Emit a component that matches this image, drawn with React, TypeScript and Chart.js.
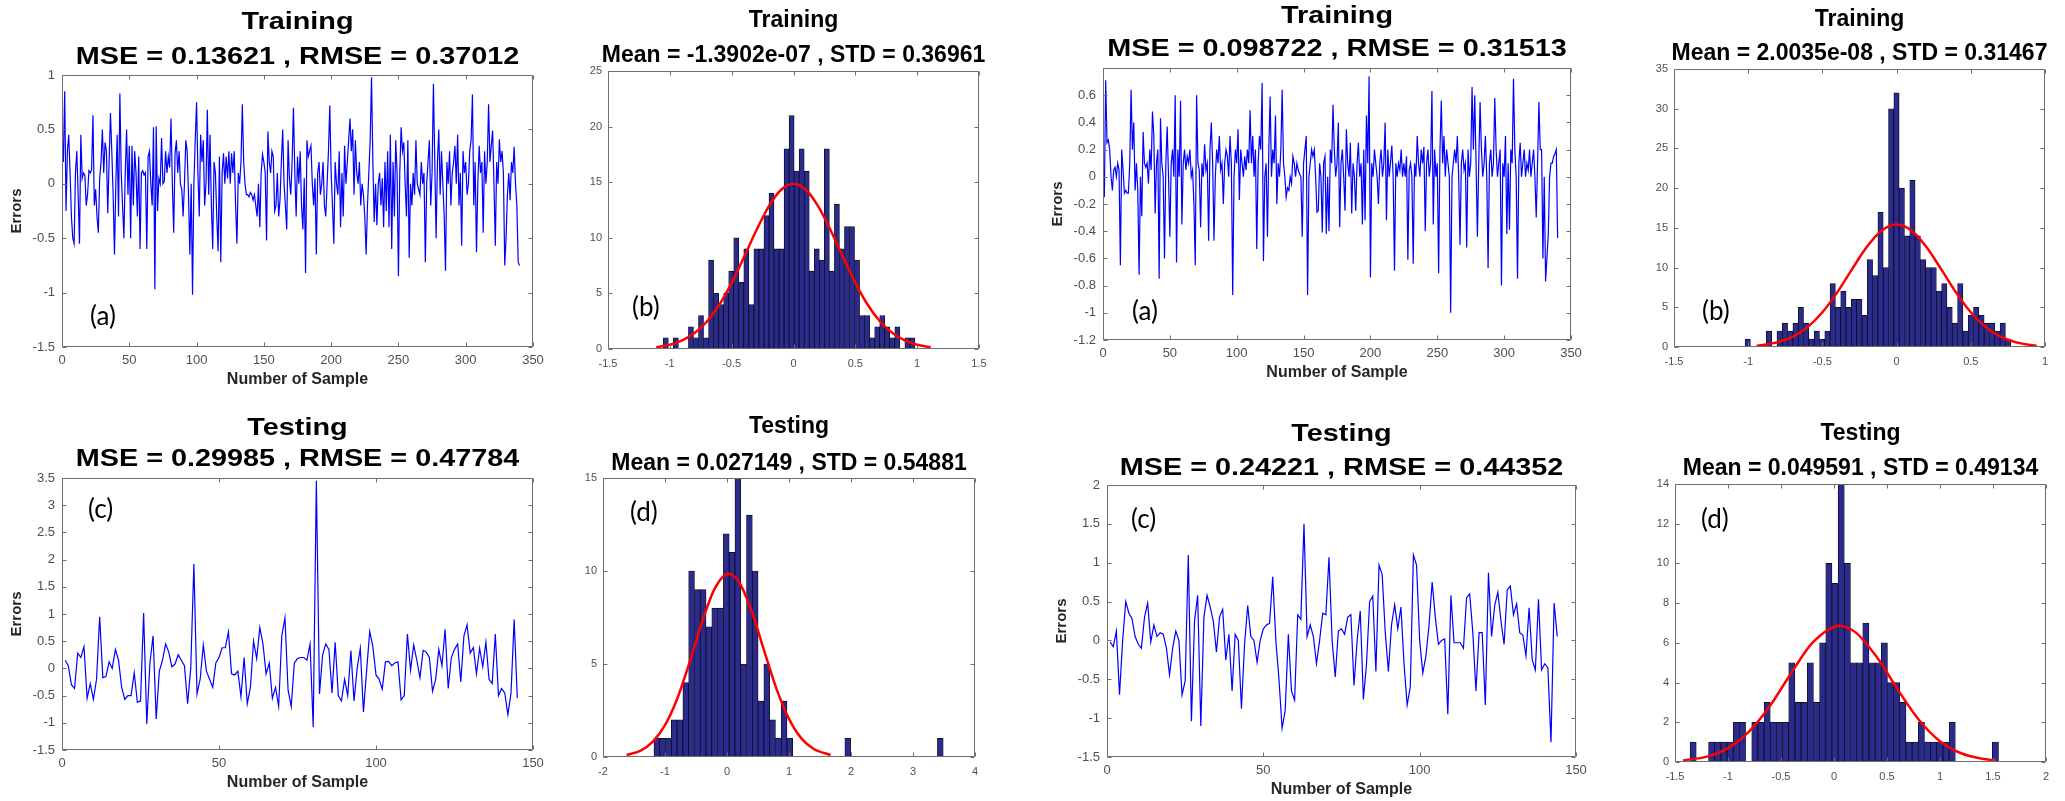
import React, { useEffect, useRef } from "react";
import { Chart, registerables } from "chart.js";

Chart.register(...registerables);

// ================= DATA =================
// Training errors, left figure (340 samples)
const trainErrorsA: number[] = [
  0.2, 0.85, -0.25, 0.3, 0.45, 0.1, -0.3, -0.5, -0.55, 0.1,
  0.3, -0.1, -0.55, 0.45, 0.05, 0.1, 0.08, -0.2, -0.1, 0.12,
  0.1, 0.13, 0.63, -0.2, -0.05, -0.3, -0.45, 0.05, 0.2, 0.5,
  0.1, 0.38, 0.3, -0.27, 0.2, 0.65, 0.3, -0.1, -0.65, 0.0,
  0.45, -0.3, 0.83, 0.1, -0.2, -0.5, 0.1, 0.5, -0.1, 0.35,
  -0.5, 0.35, -0.2, 0.3, 0.1, -0.3, 0.25, -0.6, 0.1, 0.12,
  0.08, 0.1, -0.6, 0.25, 0.3, 0.0, -0.2, 0.52, -0.97, 0.53,
  -0.25, 0.05, 0.0, 0.42, 0.0, 0.02, 0.3, 0.1, 0.25, 0.15,
  0.6, 0.0, -0.45, 0.28, 0.4, 0.1, 0.3, 0.0, -0.05, -0.3,
  0.0, 0.4, 0.3, -0.1, -0.65, 0.0, -1.02, 0.0, 0.4, 0.75,
  0.1, -0.3, 0.45, 0.2, 0.4, -0.2, 0.0, 0.68, -0.1, 0.45,
  -0.2, -0.6, 0.2, 0.1, -0.3, -0.62, 0.25, -0.72, 0.1, 0.28,
  0.0, 0.25, 0.05, 0.3, 0.0, 0.28, 0.1, 0.3, -0.2, -0.55,
  0.1, 0.0, 0.2, 0.73, 0.2, 0.0, -0.1, -0.1, -0.12, -0.08,
  -0.1, -0.15, -0.1, -0.2, -0.3, 0.0, -0.4, 0.1, 0.27, 0.2,
  0.1, -0.52, 0.48, 0.2, 0.1, 0.3, 0.25, -0.25, -0.2, 0.1,
  -0.3, -0.15, 0.2, 0.5, 0.0, -0.2, -0.42, 0.4, 0.05, -0.1,
  0.2, 0.7, 0.1, -0.3, 0.25, 0.0, 0.3, -0.2, -0.42, 0.05,
  -0.82, 0.4, 0.25, 0.3, 0.35, 0.0, -0.2, 0.05, -0.65, 0.1,
  0.2, -0.1, 0.0, 0.2, -0.2, -0.3, 0.0, 0.3, 0.72, 0.1,
  -0.2, -0.55, 0.2, 0.0, -0.1, 0.3, -0.4, 0.1, -0.3, 0.35,
  0.0, 0.2, 0.4, 0.6, 0.3, 0.5, -0.1, 0.4, 0.1, 0.0,
  0.2, -0.2, 0.0, -0.1, -0.3, -0.65, -0.2, 0.1, 0.4, 0.98,
  0.2, -0.35, 0.0, -0.38, 0.0, 0.1, -0.2, 0.05, -0.4, 0.2,
  -0.25, 0.3, -0.4, 0.45, -0.6, 0.2, -0.3, 0.4, 0.1, -0.85,
  0.1, 0.52, 0.3, 0.38, 0.0, -0.3, 0.4, -0.68, 0.0, -0.2,
  0.1, -0.1, 0.4, 0.0, -0.05, -0.1, 0.2, 0.0, 0.1, -0.72,
  0.0, 0.2, 0.4, -0.2, 0.1, 0.92, 0.2, -0.5, 0.2, 0.5,
  -0.1, 0.3, 0.0, -0.3, -0.8, 0.2, 0.0, 0.3, -0.2, 0.1,
  0.2, 0.35, 0.0, 0.45, -0.2, 0.1, -0.57, 0.3, 0.1, 0.2,
  -0.1, 0.0, 0.3, 0.4, 0.82, -0.2, 0.2, -0.63, 0.0, 0.35,
  0.1, 0.2, -0.45, 0.3, 0.0, 0.2, 0.73, 0.2, 0.35, 0.49,
  0.0, -0.57, 0.2, 0.0, 0.41, 0.2, 0.3, 0.1, -0.75, -0.49,
  -0.1, 0.1, -0.15, 0.2, 0.1, 0.34, 0.0, -0.2, -0.72, -0.75,
];

// Training errors, right figure (340 samples)
const trainErrorsB: number[] = [
  -0.15, 0.71, 0.25, 0.27, 0.2, 0.0, -0.1, 0.05, 0.07, 0.0,
  0.1, 0.05, -0.65, 0.2, 0.05, -0.12, -0.1, -0.12, -0.12, 0.1,
  0.64, 0.2, 0.4, -0.1, 0.1, -0.1, -0.72, 0.0, -0.29, 0.33,
  0.1, 0.07, 0.1, -0.05, 0.2, 0.05, 0.48, 0.3, -0.27, 0.1,
  0.2, -0.75, 0.43, 0.1, 0.0, -0.6, 0.1, 0.37, 0.0, -0.44,
  0.1, 0.2, 0.0, 0.6, -0.63, 0.2, 0.0, 0.56, -0.35, 0.1,
  0.2, 0.05, 0.15, 0.1, 0.2, 0.0, 0.05, -0.2, -0.65, 0.6,
  0.1, 0.05, -0.37, 0.1, 0.0, 0.24, 0.05, 0.1, -0.47, 0.2,
  0.4, 0.1, -0.47, 0.0, 0.2, 0.1, 0.3, 0.05, 0.1, -0.2,
  0.1, 0.2, 0.15, 0.0, 0.3, 0.1, -0.87, 0.0, 0.2, 0.1,
  0.35, -0.17, 0.2, 0.1, 0.0, 0.15, 0.05, 0.2, 0.1, 0.49,
  0.1, 0.3, 0.0, 0.2, -0.53, 0.1, 0.3, 0.2, 0.69, -0.62,
  0.0, 0.1, -0.44, 0.2, 0.59, 0.0, 0.2, 0.1, 0.45, -0.2,
  0.1, 0.0, 0.2, 0.64, 0.1, 0.0, -0.15, -0.08, -0.1, 0.0,
  -0.05, 0.15, 0.1, 0.0, 0.1, 0.05, 0.02, 0.0, -0.44, 0.1,
  0.2, 0.3, -0.87, 0.0, 0.1, 0.2, 0.15, 0.2, 0.0, -0.26,
  -0.25, 0.1, 0.0, -0.41, 0.1, 0.15, -0.42, 0.0, -0.4, 0.2,
  0.1, 0.53, 0.2, 0.0, 0.1, 0.4, -0.37, 0.1, 0.2, 0.0,
  -0.25, 0.35, 0.1, 0.0, 0.25, -0.27, 0.1, 0.0, -0.25, 0.1,
  0.25, 0.0, 0.1, -0.35, 0.2, -0.32, 0.45, 0.1, 0.74, -0.74,
  0.1, 0.0, 0.2, 0.1, 0.0, -0.2, 0.1, 0.2, 0.0, 0.1,
  0.4, -0.32, 0.2, 0.0, 0.1, 0.23, 0.0, -0.69, 0.1, 0.0,
  0.1, 0.05, 0.2, 0.0, 0.1, 0.0, 0.15, -0.61, 0.05, 0.1,
  0.0, -0.64, 0.1, 0.0, 0.3, 0.1, 0.0, 0.2, 0.1, 0.22,
  -0.4, 0.1, 0.2, 0.0, 0.1, 0.63, -0.35, 0.2, 0.0, 0.1,
  -0.71, 0.2, 0.56, 0.1, 0.3, 0.0, 0.2, 0.1, 0.0, -1.0,
  0.0, 0.1, 0.2, 0.1, 0.3, 0.0, -0.5, 0.1, 0.2, 0.05,
  0.1, -0.52, 0.2, 0.0, 0.1, 0.66, 0.2, 0.6, 0.1, -0.44,
  0.1, 0.55, 0.2, 0.0, 0.1, 0.3, 0.0, -0.67, 0.1, 0.2,
  0.0, 0.1, 0.58, 0.2, 0.0, 0.1, 0.2, -0.8, 0.1, 0.0,
  0.3, -0.42, 0.1, -0.39, 0.2, 0.1, 0.72, 0.2, 0.0, -0.75,
  0.1, 0.25, 0.0, 0.1, 0.2, 0.0, 0.1, 0.05, 0.2, 0.0,
  0.1, 0.2, 0.0, -0.3, 0.1, 0.55, 0.2, 0.2, -0.6, 0.0,
  -0.77, -0.6, -0.42, 0.0, 0.1, 0.1, 0.15, 0.17, 0.2, -0.45,
];

// Testing errors, left figure
const testErrorsA: number[] = [
  0.15, 0.05, -0.3, -0.37, 0.28, 0.2, 0.4, -0.55, -0.28, -0.57,
  -0.2, 0.95, -0.17, -0.15, 0.12, 0.0, 0.35, 0.15, -0.35, -0.57,
  -0.5, -0.5, -0.08, -0.62, -0.6, 1.02, -1.02, 0.1, 0.6, -0.93,
  -0.05, 0.15, 0.45, 0.3, 0.03, 0.08, 0.25, 0.15, 0.05, -0.65,
  0.0, 1.92, -0.47, -0.2, 0.43, -0.05, -0.2, -0.35, 0.1, 0.2,
  0.38, 0.38, 0.67, -0.1, -0.12, -0.05, -0.52, 0.2, -0.65, -0.35,
  0.5, 0.18, 0.75, 0.45, -0.1, 0.1, -0.55, -0.35, -0.7, 0.6,
  0.93, -0.4, -0.7, 0.1, 0.18, 0.2, 0.2, 0.15, 0.45, -1.08,
  3.45, -0.47, 0.25, 0.45, 0.35, -0.45, 0.48, -0.5, -0.6, -0.2,
  -0.5, 0.33, -0.6, 0.0, 0.37, -0.8, -0.05, 0.68, 0.4, -0.12,
  -0.2, -0.38, 0.12, 0.13, 0.05, 0.1, 0.12, -0.58, -0.5, 0.63,
  -0.03, 0.43, 0.15, -0.17, 0.33, 0.3, 0.2, -0.42, -0.2, 0.35,
  0.05, 0.72, -0.37, 0.2, 0.35, 0.45, -0.25, 0.6, 0.8, 0.28,
  0.38, -0.1, 0.37, 0.03, 0.48, -0.2, -0.28, 0.63, -0.5, -0.37,
  -0.45, -0.85, -0.45, 0.9, -0.55,
];

// Testing errors, right figure
const testErrorsB: number[] = [
  -0.02, -0.08, 0.12, -0.7, 0.0, 0.5, 0.35, 0.28, 0.05, -0.05,
  -0.1, 0.3, 0.48, -0.02, 0.2, 0.05, 0.1, 0.08, -0.1, -0.44,
  -0.1, 0.12, 0.0, -0.7, -0.52, 1.1, -1.04, 0.25, 0.58, -1.1,
  0.3, 0.58, 0.43, 0.25, -0.15, 0.3, 0.4, -0.25, 0.08, -0.65,
  0.08, 0.0, -0.88, -0.05, 0.45, 0.05, 0.0, -0.28, 0.0, 0.15,
  0.2, 0.22, 0.82, 0.0, -0.5, -1.13, -0.9, 0.08, -0.65, -0.77,
  0.33, 0.27, 1.5, 0.05, 0.2, 0.05, -0.3, 0.0, 0.35, 0.33,
  1.07, 0.0, -0.47, 0.12, 0.15, 0.08, 0.3, 0.33, -0.58, 0.0,
  0.38, -0.76, -0.3, 0.5, 0.57, -0.4, 0.97, 0.85, 0.1, -0.4,
  0.2, 0.46, 0.15, 0.43, -0.3, -0.83, -0.6, 1.1, 0.97, 0.0,
  -0.42, -0.2, 0.2, 0.75, 0.3, -0.05, 0.0, 0.02, -0.95, 0.58,
  -0.03, -0.03, -0.03, -0.1, 0.55, 0.6, 0.1, -0.65, 0.1, 0.1,
  -0.83, 0.87, 0.05, 0.45, 0.62, 0.25, -0.05, 0.65, 0.7, 0.33,
  0.47, 0.1, 0.07, -0.2, 0.42, -0.25, -0.38, 0.53, -0.38, -0.3,
  -0.35, -1.31, 0.48, 0.05,
];

// Histogram counts (50 bins each) with bin start / width
const histTrainA: number[] = [1, 0, 1, 0, 0, 2, 1, 3, 1, 8, 5, 4, 5, 7, 10, 6, 9, 4, 9, 9, 12, 14, 9, 9, 18, 21, 16, 18, 16, 7, 9, 8, 18, 7, 13, 9, 11, 11, 8, 3, 3, 1, 2, 3, 2, 1, 2, 0, 1, 1];
const histTrainAStart = -1.053;
const histTrainAWidth = 0.0407;

const histTrainB: number[] = [1, 0, 0, 0, 2, 0, 2, 3, 2, 3, 5, 3, 1, 2, 1, 2, 8, 5, 7, 5, 6, 6, 4, 11, 9, 17, 10, 30, 32, 20, 14, 21, 14, 11, 10, 10, 7, 8, 5, 3, 8, 2, 4, 5, 4, 3, 3, 2, 3, 1];
const histTrainBStart = -1.021;
const histTrainBWidth = 0.0358;

const histTestA: number[] = [1, 1, 1, 2, 2, 4, 10, 9, 9, 7, 8, 8, 12, 11, 15, 5, 13, 10, 3, 5, 2, 1, 3, 1, 0, 0, 0, 0, 0, 0, 0, 0, 0, 1, 0, 0, 0, 0, 0, 0, 0, 0, 0, 0, 0, 0, 0, 0, 0, 1];
const histTestAStart = -1.178;
const histTestAWidth = 0.0933;

const histTestB: number[] = [1, 0, 0, 1, 1, 1, 1, 2, 2, 0, 2, 2, 3, 2, 2, 2, 5, 3, 3, 5, 3, 6, 10, 9, 14, 10, 5, 5, 7, 5, 5, 6, 4, 4, 3, 1, 1, 2, 1, 1, 1, 1, 2, 0, 0, 0, 0, 0, 0, 1];
const histTestBStart = -1.358;
const histTestBWidth = 0.0582;

// Fitted normal curves
const fitTrainAX = [-1.11, -1.0, -0.9, -0.8, -0.7, -0.6, -0.5, -0.4, -0.3, -0.2, -0.1, 0, 0.1, 0.2, 0.3, 0.4, 0.5, 0.6, 0.7, 0.8, 0.9, 1.0, 1.11];
const fitTrainAY = [0.17, 0.38, 0.77, 1.43, 2.47, 3.98, 5.95, 8.27, 10.68, 12.83, 14.32, 14.86, 14.32, 12.83, 10.68, 8.27, 5.95, 3.98, 2.47, 1.43, 0.77, 0.38, 0.17];

const fitTrainBX = [-0.944, -0.9, -0.8, -0.7, -0.6, -0.5, -0.4, -0.3, -0.2, -0.1, 0, 0.1, 0.2, 0.3, 0.4, 0.5, 0.6, 0.7, 0.8, 0.9, 0.944];
const fitTrainBY = [0.17, 0.26, 0.61, 1.3, 2.5, 4.37, 6.88, 9.8, 12.61, 14.67, 15.43, 14.67, 12.61, 9.8, 6.88, 4.37, 2.5, 1.3, 0.61, 0.26, 0.17];

const fitTestAX = [-1.62, -1.4, -1.2, -1.0, -0.8, -0.6, -0.4, -0.2, 0.027, 0.2, 0.4, 0.6, 0.8, 1.0, 1.2, 1.4, 1.67];
const fitTestAY = [0.11, 0.33, 0.81, 1.71, 3.16, 5.13, 7.28, 9.04, 9.85, 9.37, 7.82, 5.71, 3.65, 2.05, 1.0, 0.43, 0.11];

const fitTestBX = [-1.424, -1.2, -1.0, -0.8, -0.6, -0.4, -0.2, 0.05, 0.2, 0.4, 0.6, 0.8, 1.0, 1.2, 1.4, 1.524];
const fitTestBY = [0.08, 0.27, 0.7, 1.54, 2.86, 4.51, 6.02, 6.85, 6.54, 5.31, 3.66, 2.13, 1.05, 0.44, 0.16, 0.08];

// Titles
const titleTrainLineA = ["Training", "MSE = 0.13621 , RMSE = 0.37012"];
const titleTrainHistA = ["Training", "Mean = -1.3902e-07 , STD = 0.36961"];
const titleTrainLineB = ["Training", "MSE = 0.098722 , RMSE = 0.31513"];
const titleTrainHistB = ["Training", "Mean = 2.0035e-08 , STD = 0.31467"];
const titleTestLineA = ["Testing", "MSE = 0.29985 , RMSE = 0.47784"];
const titleTestHistA = ["Testing", "Mean = 0.027149 , STD = 0.54881"];
const titleTestLineB = ["Testing", "MSE = 0.24221 , RMSE = 0.44352"];
const titleTestHistB = ["Testing", "Mean = 0.049591 , STD = 0.49134"];

const X_LABEL = "Number of Sample";
const Y_LABEL = "Errors";

// ================= STYLE / LAYOUT =================
const ML = 70, MT = 75, MR = 18, MB = 44;
const AXIS = "#6e6e6e";
const TICKTXT = "#4f4f4f";
const SANS = '"Liberation Sans", Arial, Helvetica, sans-serif';
const BAR = "#2b2b8c";

const fmt = (v: any) => {
  const n = Math.round(Number(v) * 1000) / 1000;
  return String(n === 0 ? 0 : n);
};

const framePlugin = {
  id: "matlabFrame",
  afterDraw(chart: any, _args: any, o: any) {
    if (!o || !o.enabled) return;
    const { ctx, chartArea: a, scales } = chart;
    const L = Math.round(a.left) + 0.5;
    const R = Math.round(a.right) - 0.5;
    const T = Math.round(a.top) + 0.5;
    const B = Math.round(a.bottom) - 0.5;
    ctx.save();
    ctx.strokeStyle = AXIS;
    ctx.lineWidth = 1;
    ctx.beginPath();
    ctx.rect(L, T, R - L, B - T);
    const tl = 4;
    scales.x.ticks.forEach((t: any) => {
      const px = Math.round(scales.x.getPixelForValue(t.value)) + 0.5;
      ctx.moveTo(px, B); ctx.lineTo(px, B - tl);
      ctx.moveTo(px, T); ctx.lineTo(px, T + tl);
    });
    scales.y.ticks.forEach((t: any) => {
      const py = Math.round(scales.y.getPixelForValue(t.value)) + 0.5;
      ctx.moveTo(L, py); ctx.lineTo(L + tl, py);
      ctx.moveTo(R, py); ctx.lineTo(R - tl, py);
    });
    ctx.stroke();

    const cx = (a.left + a.right) / 2;
    ctx.fillStyle = "#000";
    ctx.textAlign = "center";
    ctx.textBaseline = "alphabetic";
    ctx.font = `bold ${o.tSize}px ${SANS}`;
    const lines = [[o.title1, o.gap1], [o.title2, o.gap2]];
    lines.forEach(([txt, gap]: any) => {
      ctx.save();
      ctx.translate(cx, a.top - gap);
      ctx.scale(o.tScale, 1);
      ctx.fillText(txt, 0, 0);
      ctx.restore();
    });

    ctx.fillStyle = "#262626";
    if (o.xlabel) {
      ctx.font = `bold 16px ${SANS}`;
      ctx.textBaseline = "middle";
      ctx.fillText(o.xlabel, cx, a.bottom + 33);
    }
    if (o.ylabel) {
      ctx.font = `bold 15px ${SANS}`;
      ctx.textBaseline = "middle";
      ctx.save();
      ctx.translate(a.left - 45, (a.top + a.bottom) / 2);
      ctx.rotate(-Math.PI / 2);
      ctx.fillText(o.ylabel, 0, 0);
      ctx.restore();
    }
    if (o.letter) {
      ctx.fillStyle = "#000";
      ctx.font = `26px Lato, "Open Sans", sans-serif`;
      ctx.textAlign = "left";
      ctx.textBaseline = "middle";
      const y = o.letterFrom === "top" ? a.top + o.letterDy : a.bottom - o.letterDy;
      ctx.fillText(o.letter, a.left + o.letterDx, y);
    }
    ctx.restore();
  },
};
Chart.register(framePlugin);

function axis(min: number, max: number, step: number, size: number, pad: number, isX: boolean, hideMax = false) {
  return {
    type: "linear",
    position: isX ? "bottom" : "left",
    min,
    max,
    offset: false,
    grid: { display: false, drawTicks: false },
    border: { display: false },
    ticks: {
      stepSize: step,
      autoSkip: false,
      maxRotation: 0,
      minRotation: 0,
      padding: pad,
      color: TICKTXT,
      font: { family: SANS, size },
      callback: (v: any) => (hideMax && Math.abs(Number(v) - max) < 1e-9 ? "" : fmt(v)),
    },
    afterFit: (s: any) => {
      if (isX) s.height = MB;
      else s.width = ML;
    },
  };
}

type TextOpts = {
  titles: string[];
  line: boolean;
  gap1: number;
  gap2: number;
  letter: string;
  letterDx: number;
  letterDy: number;
  letterFrom: "top" | "bottom";
};

function frameOpts(t: TextOpts) {
  return {
    enabled: true,
    title1: t.titles[0],
    title2: t.titles[1],
    tSize: t.line ? 24 : 23,
    tScale: t.line ? 1.2 : 1.0,
    gap1: t.gap1,
    gap2: t.gap2,
    xlabel: t.line ? X_LABEL : "",
    ylabel: t.line ? Y_LABEL : "",
    letter: t.letter,
    letterDx: t.letterDx,
    letterDy: t.letterDy,
    letterFrom: t.letterFrom,
  };
}

function lineConfig(values: number[], x: [number, number, number], y: [number, number, number], t: TextOpts, hideTop = false): any {
  return {
    type: "line",
    data: {
      datasets: [
        {
          data: values.map((v, i) => ({ x: i + 1, y: v })),
          borderColor: "#0000ff",
          borderWidth: 1.2,
          pointRadius: 0,
          tension: 0,
          fill: false,
        },
      ],
    },
    options: {
      animation: false,
      responsive: false,
      events: [],
      layout: { padding: { left: 0, top: MT, right: MR, bottom: 0 } },
      plugins: { legend: { display: false }, tooltip: { enabled: false }, matlabFrame: frameOpts(t) },
      scales: {
        x: axis(x[0], x[1], x[2], 13, 6, true),
        y: axis(y[0], y[1], y[2], 13, 7, false, hideTop),
      },
    },
  };
}

function histConfig(counts: number[], start: number, width: number, fx: number[], fy: number[], x: [number, number, number], y: [number, number, number], t: TextOpts): any {
  return {
    type: "bar",
    data: {
      datasets: [
        {
          type: "line",
          data: fx.map((v, i) => ({ x: v, y: fy[i] })),
          borderColor: "#ff0000",
          borderWidth: 2.5,
          pointRadius: 0,
          cubicInterpolationMode: "monotone",
          fill: false,
          order: 1,
        },
        {
          type: "bar",
          data: counts.map((c, k) => ({ x: start + width * (k + 0.5), y: c })),
          backgroundColor: BAR,
          borderColor: "#0a0a20",
          borderWidth: 0.8,
          borderSkipped: false,
          barPercentage: 1,
          categoryPercentage: 1,
          order: 2,
        },
      ],
    },
    options: {
      animation: false,
      responsive: false,
      events: [],
      layout: { padding: { left: 0, top: MT, right: MR, bottom: 0 } },
      plugins: { legend: { display: false }, tooltip: { enabled: false }, matlabFrame: frameOpts(t) },
      scales: {
        x: axis(x[0], x[1], x[2], 11, 8, true),
        y: axis(y[0], y[1], y[2], 11, 6, false),
      },
    },
  };
}

type PanelSpec = { l: number; t: number; r: number; b: number; build: () => any };

const PANELS: PanelSpec[] = [
  {
    l: 62, t: 75, r: 533, b: 347,
    build: () => lineConfig(trainErrorsA, [0, 350, 50], [-1.5, 1, 0.5],
      { titles: titleTrainLineA, line: true, gap1: 46, gap2: 11, letter: "(a)", letterDx: 28, letterDy: 30, letterFrom: "bottom" }),
  },
  {
    l: 608, t: 71, r: 979, b: 349,
    build: () => histConfig(histTrainA, histTrainAStart, histTrainAWidth, fitTrainAX, fitTrainAY, [-1.5, 1.5, 0.5], [0, 25, 5],
      { titles: titleTrainHistA, line: false, gap1: 44, gap2: 9, letter: "(b)", letterDx: 24, letterDy: 41, letterFrom: "bottom" }),
  },
  {
    l: 1103, t: 68, r: 1571, b: 340,
    build: () => lineConfig(trainErrorsB, [0, 350, 50], [-1.2, 0.8, 0.2],
      { titles: titleTrainLineB, line: true, gap1: 45, gap2: 12, letter: "(a)", letterDx: 29, letterDy: 28, letterFrom: "bottom" }, true),
  },
  {
    l: 1674, t: 69, r: 2045, b: 347,
    build: () => histConfig(histTrainB, histTrainBStart, histTrainBWidth, fitTrainBX, fitTrainBY, [-1.5, 1, 0.5], [0, 35, 5],
      { titles: titleTrainHistB, line: false, gap1: 43, gap2: 9, letter: "(b)", letterDx: 28, letterDy: 35, letterFrom: "bottom" }),
  },
  {
    l: 62, t: 478, r: 533, b: 750,
    build: () => lineConfig(testErrorsA, [0, 150, 50], [-1.5, 3.5, 0.5],
      { titles: titleTestLineA, line: true, gap1: 43, gap2: 12, letter: "(c)", letterDx: 26, letterDy: 32, letterFrom: "top" }),
  },
  {
    l: 603, t: 478, r: 975, b: 757,
    build: () => histConfig(histTestA, histTestAStart, histTestAWidth, fitTestAX, fitTestAY, [-2, 4, 1], [0, 15, 5],
      { titles: titleTestHistA, line: false, gap1: 45, gap2: 8, letter: "(d)", letterDx: 27, letterDy: 35, letterFrom: "top" }),
  },
  {
    l: 1107, t: 485, r: 1576, b: 757,
    build: () => lineConfig(testErrorsB, [0, 150, 50], [-1.5, 2, 0.5],
      { titles: titleTestLineB, line: true, gap1: 44, gap2: 10, letter: "(c)", letterDx: 24, letterDy: 35, letterFrom: "top" }),
  },
  {
    l: 1675, t: 484, r: 2046, b: 762,
    build: () => histConfig(histTestB, histTestBStart, histTestBWidth, fitTestBX, fitTestBY, [-1.5, 2, 0.5], [0, 14, 2],
      { titles: titleTestHistB, line: false, gap1: 44, gap2: 9, letter: "(d)", letterDx: 26, letterDy: 36, letterFrom: "top" }),
  },
];

function Panel({ spec }: { spec: PanelSpec }) {
  const ref = useRef<HTMLCanvasElement | null>(null);
  const w = ML + (spec.r - spec.l) + MR;
  const h = MT + (spec.b - spec.t) + MB;
  useEffect(() => {
    if (!ref.current) return;
    const chart = new Chart(ref.current, spec.build());
    return () => chart.destroy();
  }, [spec]);
  return (
    <canvas
      ref={ref}
      width={w}
      height={h}
      style={{ position: "absolute", left: spec.l - ML, top: spec.t - MT, width: w, height: h }}
    />
  );
}

export default function App() {
  return (
    <div
      style={{
        position: "absolute",
        left: 0,
        top: 0,
        width: 2065,
        height: 801,
        overflow: "hidden",
        background: "#ffffff",
      }}
    >
      {PANELS.map((p, i) => (
        <Panel key={i} spec={p} />
      ))}
    </div>
  );
}
